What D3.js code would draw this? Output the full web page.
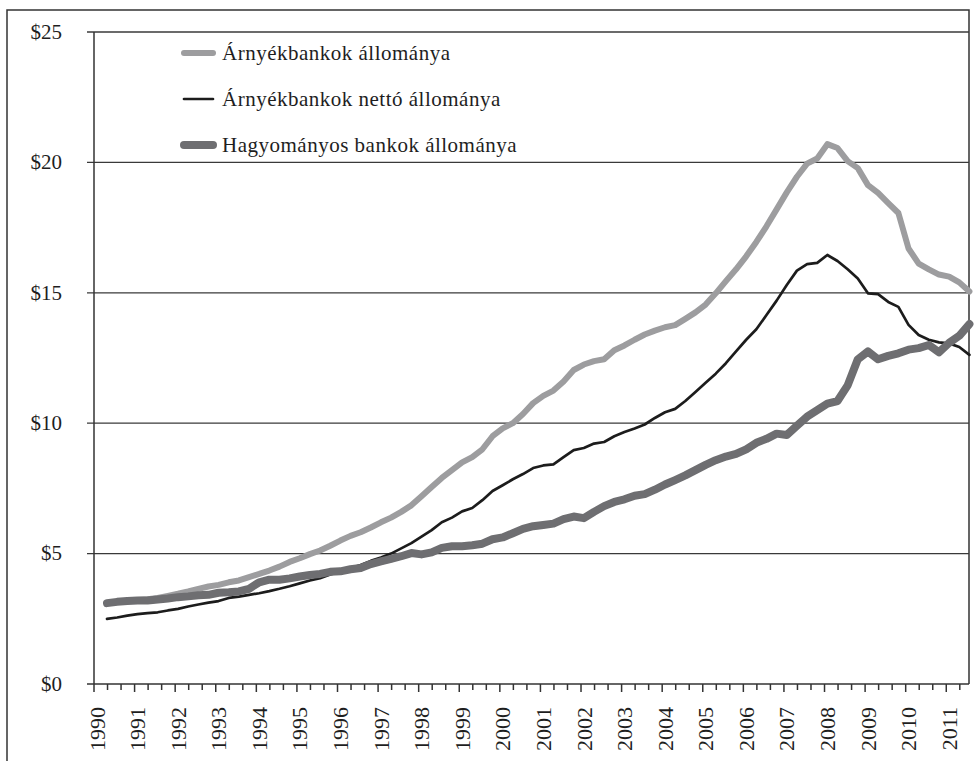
<!DOCTYPE html>
<html>
<head>
<meta charset="utf-8">
<script src="https://cdn.jsdelivr.net/npm/d3@7"></script>
<style>
  html, body { margin: 0; padding: 0; background: #fff; }
  svg { display: block; }
  text { font-family: "Liberation Serif", "Times New Roman", serif; fill: #1e1e1e; }
</style>
</head>
<body>
<svg id="chart" width="976" height="761"></svg>
<script>
// ---- data (USD trillion, quarterly) ----
const firstPeriod = 1990.32;   // decimal-year position of first quarter
const periodStep = 0.25;       // quarterly
const yearLabels = ["1990","1991","1992","1993","1994","1995","1996","1997","1998","1999","2000","2001","2002","2003","2004","2005","2006","2007","2008","2009","2010","2011"];
const yTickValues = [0, 5, 10, 15, 20, 25];
const seriesNames = ["Árnyékbankok állománya", "Árnyékbankok nettó állománya", "Hagyományos bankok állománya"];

const shadowGross = [3.10,3.15,3.18,3.22,3.25,3.30,3.38,3.46,3.55,3.65,3.74,3.80,3.90,3.97,4.10,4.22,4.35,4.50,4.68,4.82,
  4.98,5.12,5.30,5.50,5.68,5.82,6.00,6.20,6.38,6.60,6.85,7.20,7.55,7.90,8.20,8.50,8.70,9.00,9.50,9.80,
  10.00,10.35,10.77,11.05,11.25,11.60,12.04,12.25,12.38,12.45,12.80,12.98,13.20,13.40,13.55,13.68,13.76,14.00,14.25,14.55,
  14.98,15.45,15.90,16.40,16.95,17.55,18.20,18.85,19.45,19.95,20.15,20.70,20.55,20.05,19.78,19.13,18.83,18.44,18.06,16.70,
  16.12,15.90,15.70,15.62,15.40,15.05];
const shadowNet = [2.50,2.55,2.62,2.68,2.72,2.75,2.82,2.88,2.97,3.05,3.12,3.18,3.30,3.35,3.42,3.48,3.56,3.65,3.75,3.86,
  3.97,4.06,4.20,4.30,4.45,4.56,4.72,4.85,5.00,5.20,5.40,5.65,5.90,6.20,6.38,6.62,6.75,7.05,7.40,7.62,
  7.85,8.05,8.28,8.38,8.42,8.70,8.97,9.05,9.22,9.28,9.50,9.66,9.80,9.95,10.20,10.42,10.55,10.85,11.20,11.55,
  11.90,12.30,12.75,13.20,13.60,14.15,14.70,15.30,15.85,16.10,16.15,16.45,16.22,15.90,15.55,14.98,14.95,14.65,14.46,13.77,
  13.38,13.20,13.10,13.06,12.92,12.62];
const traditional = [3.10,3.15,3.18,3.20,3.20,3.24,3.28,3.33,3.36,3.40,3.42,3.50,3.52,3.55,3.65,3.90,4.00,4.00,4.05,4.12,
  4.18,4.22,4.30,4.32,4.40,4.45,4.60,4.70,4.80,4.90,5.02,4.97,5.05,5.22,5.28,5.28,5.32,5.38,5.55,5.62,
  5.78,5.95,6.05,6.10,6.15,6.32,6.42,6.36,6.60,6.82,6.98,7.08,7.22,7.28,7.45,7.65,7.82,8.00,8.20,8.40,
  8.58,8.72,8.82,9.00,9.25,9.40,9.60,9.55,9.90,10.25,10.50,10.75,10.85,11.45,12.45,12.75,12.45,12.58,12.68,12.82,
  12.88,13.00,12.72,13.08,13.35,13.80];

// ---- layout ----
const svg = d3.select("#chart");
const plot = { left: 94, right: 969, top: 32, bottom: 684 };

const x = d3.scaleLinear().domain([1990, 2011.56]).range([plot.left, plot.right]);
const y = d3.scaleLinear().domain([0, 25]).range([plot.bottom, plot.top]);

// outer frame
svg.append("path")
  .attr("d", `M7,761 L7,10 L${plot.right},10 L${plot.right},${plot.bottom}`)
  .attr("fill", "none").attr("stroke", "#333").attr("stroke-width", 1.5);

// horizontal gridlines + y ticks
svg.append("g").selectAll("line").data(yTickValues.filter(v => v > 0)).join("line")
  .attr("x1", plot.left - 7).attr("x2", plot.right)
  .attr("y1", d => y(d)).attr("y2", d => y(d))
  .attr("stroke", "#3a3a3a").attr("stroke-width", 1.3);

// y axis line
svg.append("line").attr("x1", plot.left).attr("x2", plot.left)
  .attr("y1", plot.top).attr("y2", plot.bottom)
  .attr("stroke", "#333").attr("stroke-width", 1.5);

// x axis line
svg.append("line").attr("x1", plot.left - 7).attr("x2", plot.right)
  .attr("y1", plot.bottom).attr("y2", plot.bottom)
  .attr("stroke", "#333").attr("stroke-width", 1.5);

// y labels
svg.append("g").selectAll("text").data(yTickValues).join("text")
  .attr("x", 62).attr("y", d => y(d)).attr("dy", "0.32em")
  .attr("text-anchor", "end").attr("font-size", 21)
  .text(d => "$" + d);

// x ticks: every 1/3 year, year ticks longer
const tickYears = d3.range(0, 65).map(k => 1990 + k / 3).filter(t => t <= 2011.56);
svg.append("g").selectAll("line").data(tickYears).join("line")
  .attr("x1", d => x(d)).attr("x2", d => x(d))
  .attr("y1", plot.bottom)
  .attr("y2", (d, i) => plot.bottom + (i % 3 === 0 ? 8 : 6))
  .attr("stroke", "#333").attr("stroke-width", 1.5);

// x labels (rotated)
svg.append("g").selectAll("text").data(yearLabels).join("text")
  .attr("transform", d => `translate(${x(+d) + 10.5},707) rotate(-90)`)
  .attr("text-anchor", "end").attr("font-size", 22)
  .text(d => d);

// lines
const dates = shadowGross.map((_, i) => firstPeriod + i * periodStep);
const line = d3.line().x((d, i) => x(dates[i])).y(d => y(d));

const styles = [
  { data: shadowGross, color: "#9d9d9f", width: 6 },
  { data: shadowNet, color: "#1c1c1c", width: 2.7 },
  { data: traditional, color: "#6e6e71", width: 8 }
];
styles.forEach(s => {
  svg.append("path").datum(s.data).attr("d", line)
    .attr("fill", "none").attr("stroke", s.color).attr("stroke-width", s.width)
    .attr("stroke-linejoin", "round").attr("stroke-linecap", "round");
});

// legend
const legendRows = [53, 99, 145];
const lg = svg.append("g");
seriesNames.forEach((name, i) => {
  lg.append("line").attr("x1", 184).attr("x2", 213)
    .attr("y1", legendRows[i]).attr("y2", legendRows[i])
    .attr("stroke", styles[i].color).attr("stroke-width", styles[i].width)
    .attr("stroke-linecap", "round");
  lg.append("text").attr("x", 222).attr("y", legendRows[i]).attr("dy", "0.35em")
    .attr("font-size", 21).attr("letter-spacing", 0.5).text(name);
});
</script>
</body>
</html>
